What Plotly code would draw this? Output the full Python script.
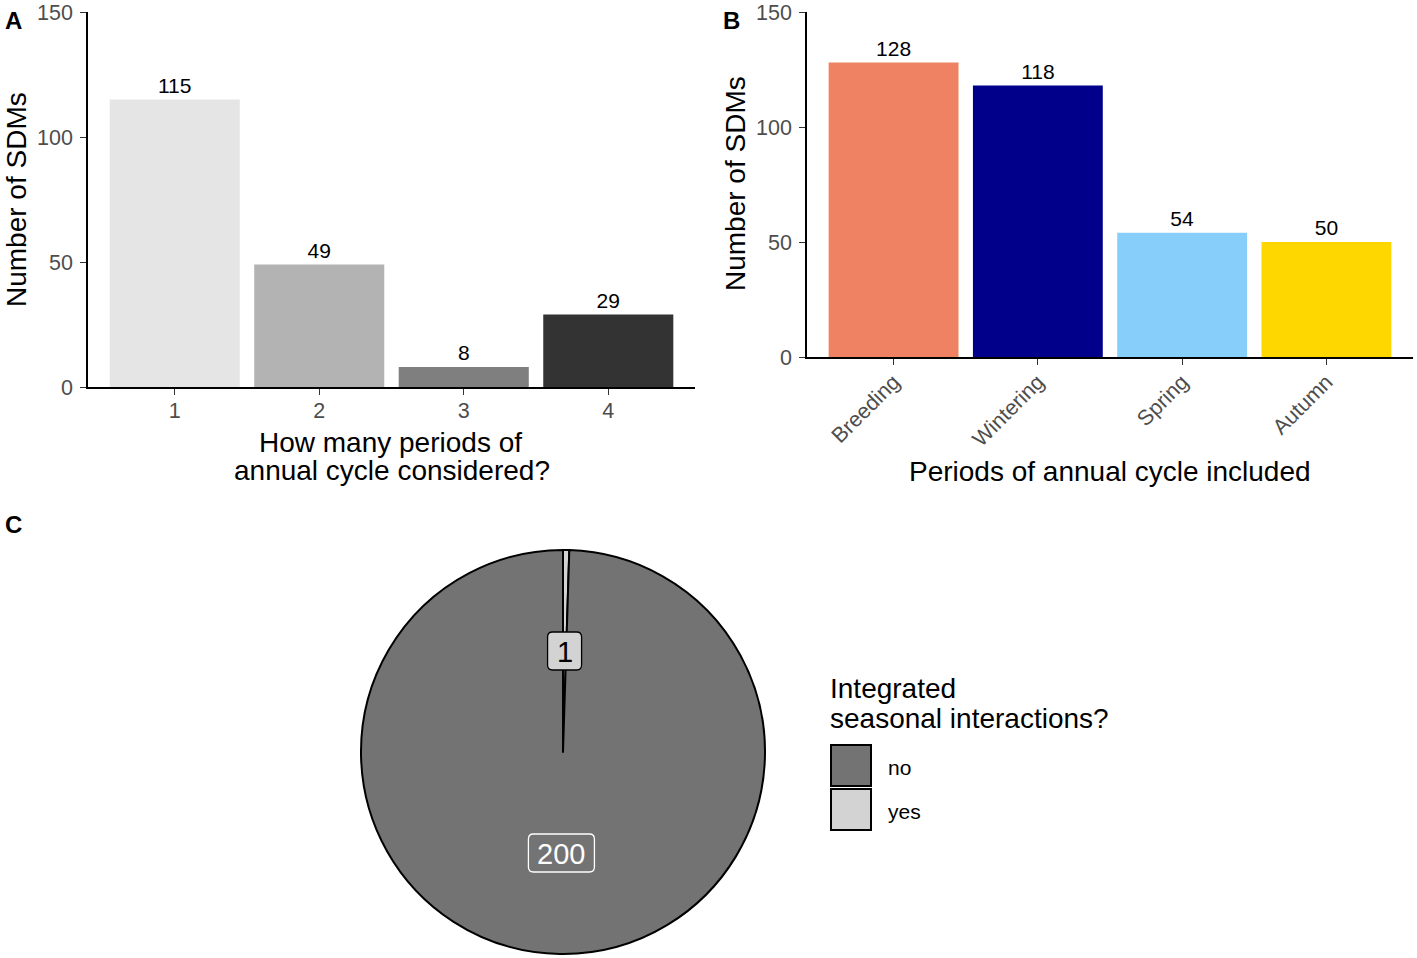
import math
import plotly.graph_objects as go

W, H = 1417, 958

# ---- data ----
a_categories = ["1", "2", "3", "4"]
a_values = [115, 49, 8, 29]
a_colors = ["#E5E5E5", "#B3B3B3", "#7F7F7F", "#333333"]

b_categories = ["Breeding", "Wintering", "Spring", "Autumn"]
b_values = [128, 118, 54, 50]
b_colors = ["#EE8262", "#00008B", "#87CEFA", "#FFD700"]

c_labels = ["yes", "no"]
c_values = [1, 200]
c_colors = ["#D3D3D3", "#737373"]
legend_order = ["no", "yes"]

y_ticks = [0, 50, 100, 150]

FONT = "Liberation Sans, Arial, sans-serif"
TICKGREY = "#4D4D4D"
TICKSIZE = 21.5
TITLESIZE = 28


def px_x(p):
    return p / W


def px_y(p):
    return (H - p) / H


fig = go.Figure()

fig.add_trace(go.Bar(
    x=[1, 2, 3, 4], y=a_values, marker=dict(color=a_colors, line=dict(width=0)),
    width=0.9, text=[str(v) for v in a_values], textposition="outside",
    textfont=dict(size=21, color="black", family=FONT), cliponaxis=False,
    xaxis="x", yaxis="y", showlegend=False, hoverinfo="skip"))

fig.add_trace(go.Bar(
    x=[1, 2, 3, 4], y=b_values, marker=dict(color=b_colors, line=dict(width=0)),
    width=0.9, text=[str(v) for v in b_values], textposition="outside",
    textfont=dict(size=21, color="black", family=FONT), cliponaxis=False,
    xaxis="x2", yaxis="y2", showlegend=False, hoverinfo="skip"))

# pie domain (pixels)
pie_l, pie_r, pie_t, pie_b = 361, 765, 550, 954
fig.add_trace(go.Pie(
    labels=c_labels, values=c_values, sort=False, direction="clockwise", rotation=0,
    marker=dict(colors=c_colors, line=dict(color="black", width=2)),
    textinfo="none", hoverinfo="skip", showlegend=False, automargin=False,
    domain=dict(x=[px_x(pie_l), px_x(pie_r)], y=[px_y(pie_b), px_y(pie_t)])))

common_axis = dict(showline=True, linecolor="black", linewidth=1.6, ticks="outside",
                   ticklen=6, tickwidth=1.3, tickcolor="#333333", showgrid=False,
                   zeroline=False, automargin=False,
                   tickfont=dict(size=TICKSIZE, color=TICKGREY, family=FONT))

fig.update_layout(
    template="none",
    width=W, height=H, margin=dict(l=0, r=0, t=0, b=0, pad=0, autoexpand=False),
    paper_bgcolor="white", plot_bgcolor="white",
    font=dict(family=FONT, color="black"),
    xaxis=dict(common_axis, domain=[px_x(88), px_x(695)], range=[0.4, 4.6],
               tickmode="array", tickvals=[1, 2, 3, 4], ticktext=a_categories,
               anchor="y", ticklabelstandoff=-3),
    yaxis=dict(common_axis, domain=[px_y(387), px_y(12)], range=[0, 150],
               tickvals=y_ticks, anchor="x", ticklabelstandoff=3),
    xaxis2=dict(common_axis, domain=[px_x(807), px_x(1413)], range=[0.4, 4.6],
                tickmode="array", tickvals=[1, 2, 3, 4], ticktext=b_categories,
                tickangle=-45, anchor="y2", ticklabelstandoff=-4),
    yaxis2=dict(common_axis, domain=[px_y(357), px_y(12)], range=[0, 150],
                tickvals=y_ticks, anchor="x2", ticklabelstandoff=3),
)

ann = []
shapes = []


def text_ann(text, x, y, size, xanchor="center", angle=0, color="black"):
    ann.append(dict(text=text, x=px_x(x), y=px_y(y), xref="paper", yref="paper",
                    xanchor=xanchor, yanchor="middle", showarrow=False,
                    textangle=angle, font=dict(size=size, color=color, family=FONT)))


def rounded_box(xc, yc, w, h, r, fill, line):
    x0, x1 = xc - w / 2, xc + w / 2
    y0, y1 = yc - h / 2, yc + h / 2

    def p(x, y):
        return "%.6f,%.6f" % (px_x(x), px_y(y))

    path = ("M" + p(x0 + r, y0) + " L" + p(x1 - r, y0) + " Q" + p(x1, y0) + " " + p(x1, y0 + r) +
            " L" + p(x1, y1 - r) + " Q" + p(x1, y1) + " " + p(x1 - r, y1) +
            " L" + p(x0 + r, y1) + " Q" + p(x0, y1) + " " + p(x0, y1 - r) +
            " L" + p(x0, y0 + r) + " Q" + p(x0, y0) + " " + p(x0 + r, y0) + " Z")
    shapes.append(dict(type="path", xref="paper", yref="paper", path=path,
                       fillcolor=fill, line=dict(color=line, width=1.3), layer="above"))


# panel letters
text_ann("<b>A</b>", 3, 20, 24, xanchor="left")
text_ann("<b>B</b>", 721, 20, 24, xanchor="left")
text_ann("<b>C</b>", 3, 524, 24, xanchor="left")

# axis titles
text_ann("Number of SDMs", 16, 200, TITLESIZE, angle=-90)
text_ann("Number of SDMs", 735, 184, TITLESIZE, angle=-90)
text_ann("How many periods of", 390, 442, TITLESIZE)
text_ann("annual cycle considered?", 392, 471, TITLESIZE)
text_ann("Periods of annual cycle included", 1110, 472, TITLESIZE)

# pie labels at half radius, mid-angle of each slice
cx = (pie_l + pie_r) / 2
cy = (pie_t + pie_b) / 2
rad = (pie_r - pie_l) / 2
total = sum(c_values)
cum = 0
label_styles = {
    "yes": dict(bg="#D3D3D3", border="black", fc="black"),
    "no": dict(bg="#737373", border="white", fc="white"),
}
for lab, v in zip(c_labels, c_values):
    mid = (cum + v / 2) / total * 2 * math.pi
    cum += v
    lx = cx + 0.5 * rad * math.sin(mid)
    ly = cy - 0.5 * rad * math.cos(mid)
    st = label_styles[lab]
    rounded_box(lx, ly, len(str(v)) * 16 + 18, 38, 5, st["bg"], st["border"])
    text_ann(str(v), lx, ly + 1, 29, color=st["fc"])

# legend
text_ann("Integrated", 828, 688, TITLESIZE, xanchor="left")
text_ann("seasonal interactions?", 828, 718, TITLESIZE, xanchor="left")
key_top = 745
key_h = 44
for i, lab in enumerate(legend_order):
    col = c_colors[c_labels.index(lab)]
    t = key_top + i * key_h
    shapes.append(dict(type="rect", xref="paper", yref="paper",
                       x0=px_x(831), x1=px_x(871), y0=px_y(t), y1=px_y(t + 41),
                       fillcolor=col, line=dict(color="black", width=2)))
    text_ann(lab, 886, t + 22, 21, xanchor="left")

fig.update_layout(annotations=ann, shapes=shapes)

post = (
    "document.body.style.margin='0';"
    "document.body.style.overflow='hidden';"
)

fig.write_html("out.html", config={"displayModeBar": False}, post_script=post)
